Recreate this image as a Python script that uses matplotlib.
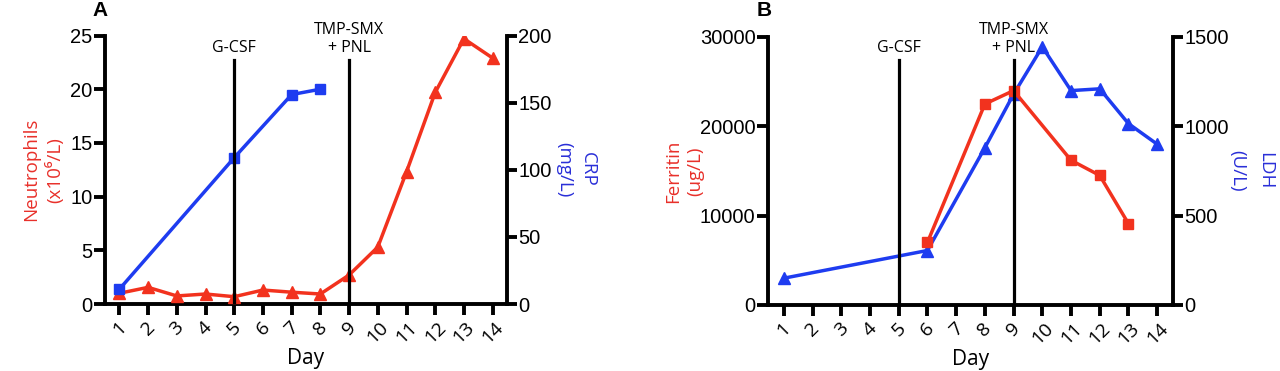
import matplotlib
matplotlib.use("Agg")
import matplotlib.pyplot as plt

# ---- data ----
days = list(range(1, 15))
day_labels = [str(d) for d in days]

neutrophils = [1.0, 1.55, 0.75, 0.93, 0.68, 1.3, 1.1, 0.93, 2.7, 5.3, 12.3, 19.7, 24.7, 22.9]
crp_days = [1, 5, 7, 8]
crp = [11, 109, 156, 160]

ferritin_days = [6, 8, 9, 11, 12, 13]
ferritin = [7000, 22500, 24000, 16200, 14500, 9100]
ldh_days = [1, 6, 8, 9, 10, 11, 12, 13, 14]
ldh = [150, 305, 880, 1180, 1445, 1200, 1210, 1015, 900]

event_days = [5, 9]
event_labels = ["G-CSF", "TMP-SMX\n+ PNL"]

neut_ticks = [0, 5, 10, 15, 20, 25]
crp_ticks = [0, 50, 100, 150, 200]
ferr_ticks = [0, 10000, 20000, 30000]
ldh_ticks = [0, 500, 1000, 1500]

RED = "#F2321E"
BLUE = "#1E3CF0"
RED_TXT = "#E8302A"
BLUE_TXT = "#2A2FD8"

W, H = 1280, 371
fig = plt.figure(figsize=(W / 100, H / 100), dpi=100)

SP = 2.8
LW = 2.5
LAB_FONT = ["Open Sans", "DejaVu Sans"]


def style_axes(ax, tw, xlim):
    ax.set_xlim(*xlim)
    for s in ["top", "right"]:
        ax.spines[s].set_visible(False)
    for s in ["left", "bottom"]:
        ax.spines[s].set_linewidth(SP)
    tw.spines["top"].set_visible(False)
    tw.spines["left"].set_visible(False)
    tw.spines["bottom"].set_visible(False)
    tw.spines["right"].set_linewidth(SP)
    ax.tick_params(axis="y", direction="out", length=8, width=SP, pad=1,
                   labelsize=14.5, labelfontfamily="Liberation Sans")
    tw.tick_params(axis="y", direction="out", length=7, width=SP, pad=1,
                   labelsize=14.5, labelfontfamily="Liberation Sans")
    ax.set_xticks(days)
    ax.set_xticklabels(day_labels, rotation=45, ha="center",
                       family=LAB_FONT, size=14)
    ax.tick_params(axis="x", direction="out", length=8, width=SP, pad=2)
    ax.set_xlabel("Day", family=LAB_FONT, size=15, labelpad=1)


def events(ax, top):
    for d, lab in zip(event_days, event_labels):
        ax.axvline(d, ymin=0, ymax=top, color="black", lw=2.3, zorder=10)
        ax.text(d, top + 0.015, lab, transform=ax.get_xaxis_transform(),
                ha="center", va="bottom", family=LAB_FONT, size=11.5,
                linespacing=1.2)


# ---- Panel A ----
axA = fig.add_axes([105 / W, 1 - 304 / H, (507 - 105) / W, (304 - 35.5) / H])
twA = axA.twinx()
axA.plot(days, neutrophils, color=RED, lw=LW, marker="^", ms=8, zorder=3)
twA.plot(crp_days, crp, color=BLUE, lw=LW, marker="s", ms=7.5, zorder=3)
axA.set_ylim(0, 25)
axA.set_yticks(neut_ticks)
twA.set_ylim(0, 200)
twA.set_yticks(crp_ticks)
style_axes(axA, twA, (0.5, 14.5))
events(twA, 0.907)
axA.set_ylabel("Neutrophils\n(x10\u2076/L)", color=RED_TXT, family=LAB_FONT,
               size=13.5, labelpad=4, linespacing=1.4)
twA.set_ylabel("CRP\n(mg/L)", color=BLUE_TXT, family=LAB_FONT, size=13.5,
               rotation=270, labelpad=33, linespacing=1.45)
fig.text(100 / W, 1 - 11 / H, "A", weight="bold", size=15,
         family=["Liberation Sans", "DejaVu Sans"], ha="center", va="center")

# ---- Panel B ----
axB = fig.add_axes([768 / W, 1 - 305 / H, (1173 - 768) / W, (305 - 37) / H])
twB = axB.twinx()
axB.plot(ferritin_days, ferritin, color=RED, lw=LW, marker="s", ms=7.5, zorder=3)
twB.plot(ldh_days, ldh, color=BLUE, lw=LW, marker="^", ms=8, zorder=3)
axB.set_zorder(twB.get_zorder() + 1)
axB.patch.set_visible(False)
axB.set_ylim(0, 30000)
axB.set_yticks(ferr_ticks)
twB.set_ylim(0, 1500)
twB.set_yticks(ldh_ticks)
style_axes(axB, twB, (0.45, 14.55))
events(axB, 0.914)
axB.set_ylabel("Ferritin\n(ug/L)", color=RED_TXT, family=LAB_FONT,
               size=13.5, labelpad=-3, linespacing=1.3)
twB.set_ylabel("LDH\n(U/L)", color=BLUE_TXT, family=LAB_FONT, size=13.5,
               rotation=270, labelpad=33, linespacing=1.75)
fig.text(764 / W, 1 - 11 / H, "B", weight="bold", size=15,
         family=["Liberation Sans", "DejaVu Sans"], ha="center", va="center")

fig.savefig("out.png", dpi=100)
